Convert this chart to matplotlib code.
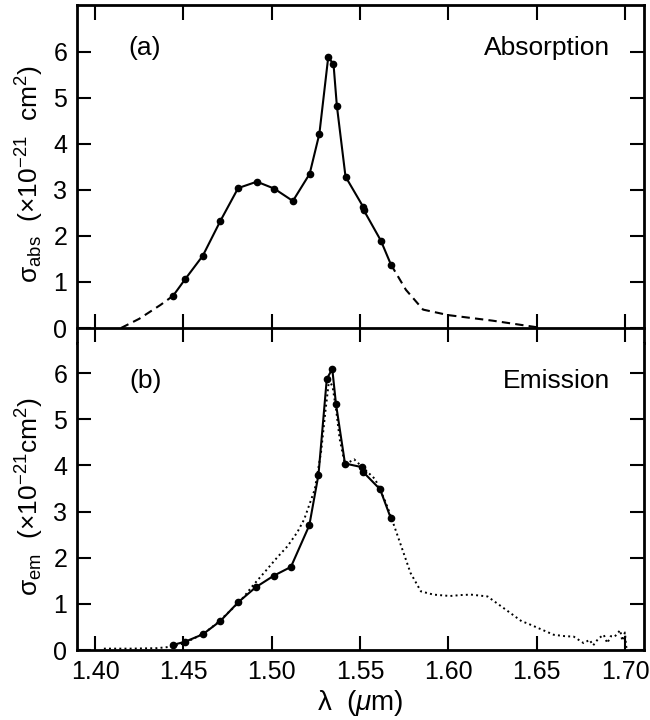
import matplotlib
matplotlib.use('Agg')
import matplotlib.pyplot as plt

plt.rcParams['font.family'] = ['Liberation Sans', 'DejaVu Sans']
plt.rcParams['mathtext.fontset'] = 'custom'
plt.rcParams['mathtext.rm'] = 'Liberation Sans'
plt.rcParams['mathtext.it'] = 'Liberation Sans:italic'

# (a) absorption: measured points and dashed extrapolated wings
abs_wl = [1.4442, 1.451, 1.461, 1.471, 1.481, 1.4916, 1.5014, 1.512, 1.5215,
          1.527, 1.532, 1.535, 1.5369, 1.5418, 1.5517, 1.552, 1.5618, 1.5675]
abs_sig = [0.70, 1.06, 1.57, 2.33, 3.04, 3.18, 3.03, 2.76, 3.35,
           4.22, 5.88, 5.74, 4.83, 3.29, 2.64, 2.57, 1.90, 1.38]
abs_blue_wl = [1.4147, 1.425, 1.437, 1.4442]
abs_blue_sig = [0.0, 0.20, 0.50, 0.70]
abs_red_wl = [1.5675, 1.576, 1.5857, 1.600, 1.625, 1.653]
abs_red_sig = [1.38, 0.83, 0.40, 0.28, 0.16, 0.0]

# (b) emission: McCumber points and measured fluorescence (dotted)
em_wl = [1.4441, 1.451, 1.461, 1.471, 1.4812, 1.491, 1.5012, 1.5109, 1.5213,
         1.5265, 1.5312, 1.5343, 1.5364, 1.5415, 1.5512, 1.5517, 1.5614, 1.5675]
em_sig = [0.11, 0.18, 0.34, 0.63, 1.04, 1.36, 1.61, 1.80, 2.70,
          3.80, 5.87, 6.09, 5.33, 4.04, 3.96, 3.86, 3.48, 2.85]
fl_wl = [1.405, 1.420, 1.435, 1.443, 1.450, 1.457, 1.463, 1.469, 1.474, 1.479,
         1.484, 1.489, 1.4972, 1.503, 1.509, 1.5145, 1.5184, 1.5244, 1.528,
         1.5305, 1.5325, 1.5345, 1.5365, 1.5385, 1.5415, 1.5467, 1.5517,
         1.5586, 1.564, 1.5668, 1.5727, 1.5786, 1.5845, 1.5916, 1.601, 1.607,
         1.6128, 1.6222, 1.6327, 1.6416, 1.6446, 1.6597, 1.666, 1.671, 1.6766,
         1.680, 1.682, 1.685, 1.688, 1.690, 1.692, 1.6942, 1.6973, 1.6985,
         1.700, 1.7005, 1.701]
fl_sig = [0.03, 0.03, 0.04, 0.07, 0.14, 0.27, 0.40, 0.58, 0.76, 0.94,
          1.14, 1.38, 1.74, 2.00, 2.25, 2.55, 2.83, 3.48, 4.30,
          5.20, 5.85, 5.70, 5.20, 4.57, 4.02, 4.13, 3.95,
          3.70, 3.25, 2.97, 2.32, 1.67, 1.27, 1.20, 1.17, 1.19,
          1.20, 1.16, 0.87, 0.62, 0.58, 0.33, 0.30, 0.29, 0.15,
          0.22, 0.10, 0.25, 0.33, 0.15, 0.30, 0.29, 0.43, 0.20,
          0.38, 0.15, 0.0]

xticks = [1.40, 1.45, 1.50, 1.55, 1.60, 1.65, 1.70]
yticks = [0, 1, 2, 3, 4, 5, 6]

fs = 18
lw = 1.5
fig = plt.figure(figsize=(6.5, 7.2), dpi=100)
ax1 = fig.add_axes([0.1185, 0.5236, 0.8723, 0.4695])
ax2 = fig.add_axes([0.1185, 0.0972, 0.8723, 0.4264])

# top panel, x axis drawn through zero
ax1.plot(abs_wl, abs_sig, 'k-', lw=lw, marker='o', ms=4.5)
ax1.plot(abs_blue_wl, abs_blue_sig, 'k', lw=lw, ls=(0, (4, 2.5)))
ax1.plot(abs_red_wl, abs_red_sig, 'k', lw=lw, ls=(0, (4, 2.5)))
ax1.set_xlim(1.3898, 1.7108)
ax1.set_ylim(-0.326, 7.02)
ax1.spines['bottom'].set_position(('data', 0))
for s in ax1.spines.values():
    s.set_linewidth(2)
ax1.set_xticks(xticks)
ax1.set_yticks(yticks)
ax1.tick_params(axis='x', bottom=True, top=True, labelbottom=False,
                direction='in', length=11, width=1.5)
ax1.tick_params(axis='y', left=True, right=True, direction='in',
                length=10, width=1.5, labelsize=fs, pad=7)
# ticks on the zero line cross it
for t in ax1.xaxis.get_major_ticks():
    t.tick1line.set_marker('|')
    t.tick1line.set_markersize(20)
ax1.text(0.12, 0.872, '(a)', transform=ax1.transAxes, fontsize=fs + 1,
         ha='center', va='center')
ax1.text(0.94, 0.872, 'Absorption', transform=ax1.transAxes, fontsize=fs + 1,
         ha='right', va='center')
ax1.set_ylabel(r'σ$_{\rm abs}$  ($\times$10$^{-21}$  cm$^2$)',
               fontsize=fs + 1, labelpad=5)

# bottom panel
ax2.plot(fl_wl, fl_sig, 'k', lw=1.4, ls=':')
ax2.plot(em_wl, em_sig, 'k-', lw=lw, marker='o', ms=4.5)
ax2.set_xlim(1.3898, 1.7108)
ax2.set_ylim(0, 6.65)
ax2.spines['top'].set_visible(False)
for s in ax2.spines.values():
    s.set_linewidth(2)
ax2.set_xticks(xticks)
ax2.set_xticklabels(['%.2f' % v for v in xticks])
ax2.set_yticks(yticks)
ax2.tick_params(axis='x', direction='in', length=10, width=1.5,
                labelsize=fs, pad=7)
ax2.tick_params(axis='y', left=True, right=True, direction='in',
                length=10, width=1.5, labelsize=fs, pad=7)
ax2.text(0.12, 0.877, '(b)', transform=ax2.transAxes, fontsize=fs + 1,
         ha='center', va='center')
ax2.text(0.94, 0.877, 'Emission', transform=ax2.transAxes, fontsize=fs + 1,
         ha='right', va='center')
ax2.set_ylabel(r'σ$_{\rm em}$  ($\times$10$^{-21}$cm$^2$)',
               fontsize=fs + 1, labelpad=5)
ax2.set_xlabel(r'λ  ($\mu$m)', fontsize=fs + 2, labelpad=3)

fig.savefig('out.png', dpi=100)
